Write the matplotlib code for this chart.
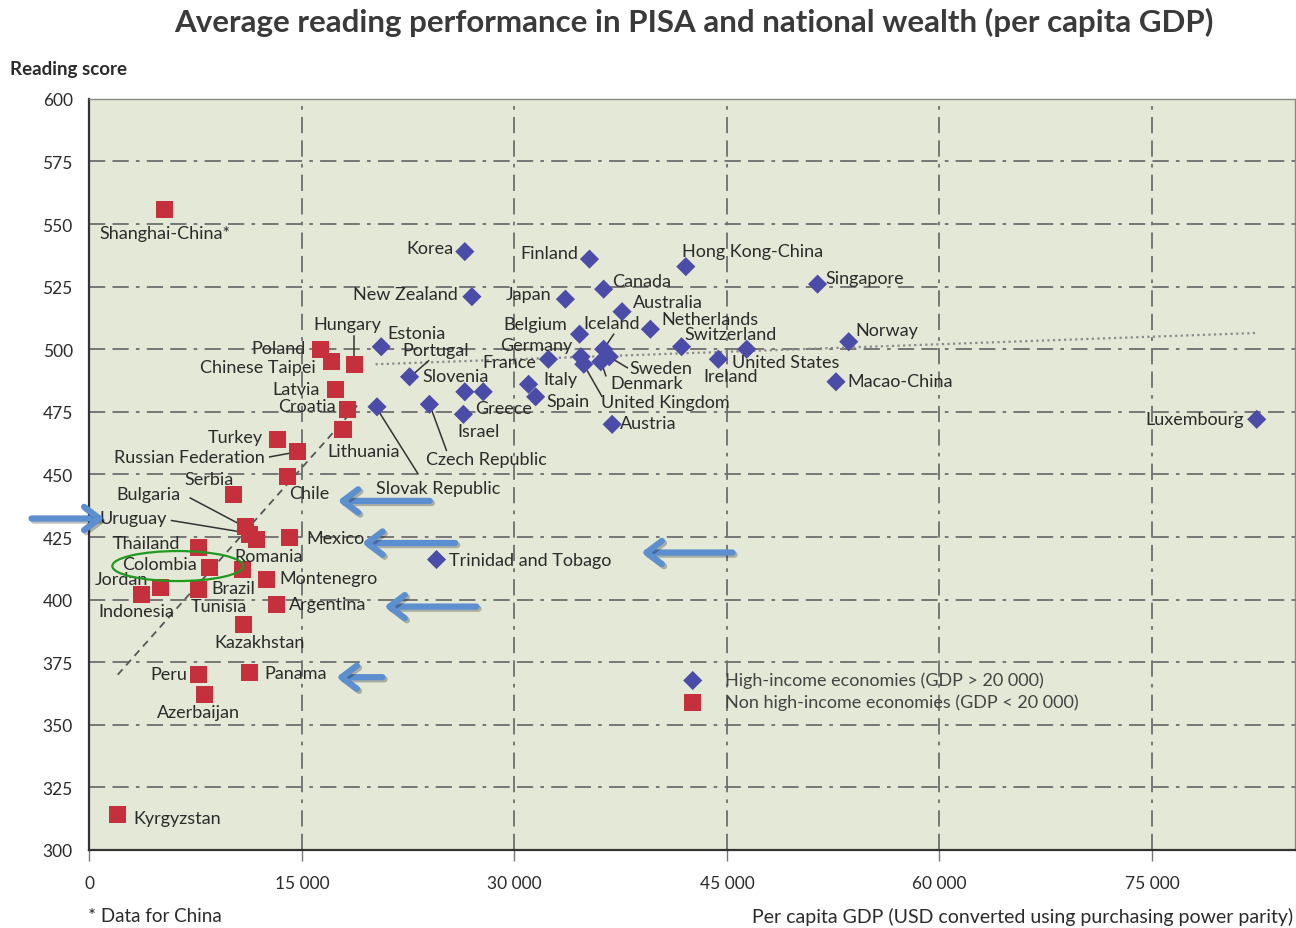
"""
Average reading performance in PISA 2009 and per capita GDP.
Output: out.png
"""

import matplotlib
matplotlib.use("Agg")
import matplotlib.pyplot as plt
import matplotlib.patheffects as pe
from matplotlib.patches import Ellipse
from matplotlib.transforms import ScaledTranslation

plt.rcParams["font.family"] = ["Lato", "DejaVu Sans"]

# ── data (GDP in thousand USD PPP, PISA reading score) ─────────────────────────
high_names = ["Korea", "Finland", "Hong Kong-China", "Singapore", "Canada",
              "New Zealand", "Japan", "Australia", "Netherlands", "Belgium",
              "Norway", "Estonia", "Switzerland", "Iceland", "United States",
              "Germany", "Sweden", "Ireland", "France", "Denmark",
              "United Kingdom", "Portugal", "Italy", "Macao-China", "Slovenia",
              "Greece", "Spain", "Czech Republic", "Slovak Republic", "Israel",
              "Luxembourg", "Austria", "Trinidad and Tobago"]
high_gdp = [26.5, 35.3, 42.1, 51.4, 36.3, 27.0, 33.6, 37.6, 39.6, 34.6,
            53.6, 20.6, 41.8, 36.3, 46.4, 34.7, 36.7, 44.4, 32.4, 36.1,
            34.9, 22.6, 31.0, 52.7, 26.5, 27.8, 31.5, 24.0, 20.3, 26.4,
            82.4, 36.9, 24.5]
high_score = [539, 536, 533, 526, 524, 521, 520, 515, 508, 506,
              503, 501, 501, 500, 500, 497, 497, 496, 496, 495,
              494, 489, 486, 487, 483, 483, 481, 478, 477, 474,
              472, 470, 416]

low_names = ["Shanghai-China*", "Poland", "Chinese Taipei", "Hungary", "Latvia",
             "Croatia", "Lithuania", "Turkey", "Russian Federation", "Chile",
             "Serbia", "Bulgaria", "Uruguay", "Mexico", "Romania", "Thailand",
             "Colombia", "Brazil", "Montenegro", "Jordan", "Tunisia",
             "Indonesia", "Argentina", "Kazakhstan", "Panama", "Peru",
             "Azerbaijan", "Kyrgyzstan"]
low_gdp = [5.3, 16.3, 17.1, 18.7, 17.4, 18.2, 17.9, 13.3, 14.7, 14.0,
           10.2, 11.0, 11.3, 14.1, 11.8, 7.7, 8.5, 10.8, 12.5, 5.0,
           7.7, 3.7, 13.2, 10.9, 11.3, 7.7, 8.1, 2.0]
low_score = [556, 500, 495, 494, 484, 476, 468, 464, 459, 449,
             442, 429, 426, 425, 424, 421, 413, 412, 408, 405,
             404, 402, 398, 390, 371, 370, 362, 314]

# trend lines (GDP range, fitted score at both ends)
high_trend_gdp = [20.2, 82.4]
high_trend_score = [494, 506.5]
low_trend_gdp = [2.0, 18.9]
low_trend_score = [370, 477.5]

x_ticks = [0, 15000, 30000, 45000, 60000, 75000]
x_ticklabels = ["0", "15 000", "30 000", "45 000", "60 000", "75 000"]
y_ticks = [300, 325, 350, 375, 400, 425, 450, 475, 500, 525, 550, 575, 600]

# ── label placement: (dx, dy, ha) in pixels, dy positive = down ───────────────
LABELS = {
    "Korea": (-11, -4, "right"), "Finland": (-11, -6, "right"),
    "Hong Kong-China": (-4, -16, "left"), "Singapore": (8, -6, "left"),
    "Canada": (8, -8, "left"), "New Zealand": (-14, -3, "right"),
    "Japan": (-14, -5, "right"), "Australia": (11, -10, "left"),
    "Netherlands": (11, -10, "left"), "Belgium": (-12, -10, "right"),
    "Norway": (7, -12, "left"), "Estonia": (6, -14, "left"),
    "Switzerland": (3, -13, "left"), "Iceland": (-20, -26, "left"),
    "United States": (-15, 13, "left"), "Germany": (-9, -12, "right"),
    "Sweden": (20, 11, "left"), "Ireland": (-15, 17, "left"),
    "France": (-12, 3, "right"), "Denmark": (10, 21, "left"),
    "United Kingdom": (17, 38, "left"), "Portugal": (-7, -27, "left"),
    "Italy": (15, -5, "left"), "Macao-China": (11, -1, "left"),
    "Slovenia": (-42, -16, "left"), "Greece": (-8, 16, "left"),
    "Spain": (11, 4, "left"), "Czech Republic": (-3, 55, "left"),
    "Slovak Republic": (-1, 81, "left"), "Israel": (-6, 17, "left"),
    "Luxembourg": (-13, 0, "right"), "Austria": (8, -1, "left"),
    "Trinidad and Tobago": (13, 0, "left"),
    "Shanghai-China*": (0, 24, "center"), "Poland": (-15, -1, "right"),
    "Chinese Taipei": (-16, 5, "right"), "Hungary": (-7, -40, "center"),
    "Latvia": (-16, 0, "right"), "Croatia": (-11, -3, "right"),
    "Lithuania": (-16, 22, "left"), "Turkey": (-15, -2, "right"),
    "Russian Federation": (-33, 5, "right"), "Chile": (1, 16, "left"),
    "Serbia": (0, -15, "right"), "Bulgaria": (-65, -33, "right"),
    "Uruguay": (-83, -17, "right"), "Mexico": (17, 1, "left"),
    "Romania": (-22, 16, "left"), "Thailand": (-18, -4, "right"),
    "Colombia": (-13, -3, "right"), "Brazil": (-31, 18, "left"),
    "Montenegro": (13, -2, "left"), "Jordan": (-12, -8, "right"),
    "Tunisia": (-8, 16, "left"), "Indonesia": (-6, 16, "center"),
    "Argentina": (13, -1, "left"), "Kazakhstan": (16, 17, "center"),
    "Panama": (15, 1, "left"), "Peru": (-11, -1, "right"),
    "Azerbaijan": (-6, 17, "center"), "Kyrgyzstan": (16, 3, "left"),
}

# leader lines: start and end offsets from the marker, pixels
LEADERS = {
    "Iceland": ((10, -15), (2, -3)),
    "Portugal": ((19, -16), (3, -2)),
    "Hungary": ((0, -28), (0, -7)),
    "Russian Federation": ((-28, 5), (-6, 1)),
    "Bulgaria": ((-55, -29), (-4, -2)),
    "Uruguay": ((-78, -14), (-5, -2)),
    "Sweden": ((3, 2), (18, 11)),
    "Denmark": ((2, 5), (5, 14)),
    "United Kingdom": ((2, 4), (18, 32)),
    "Czech Republic": ((2, 5), (17, 46)),
    "Slovak Republic": ((2, 5), (41, 67)),
}

# hand-drawn blue arrows: head offset from marker (px), length (px), direction
ARROWS = {
    "Chile": (50, 24, 92, -1),
    "Mexico": (73, 6, 93, -1),
    "Trinidad and Tobago": (205, -7, 91, -1),
    "Argentina": (108, 2, 92, -1),
    "Panama": (87, 5, 46, -1),
    "Uruguay": (-145, -16, 73, 1),
}

RED = "#c5303c"
BLUE = "#4b4ba8"
TXT = "#2b2b2b"
DPI = 100

fig = plt.figure(figsize=(12.96, 9.29), dpi=DPI)
ax = fig.add_axes([0.069, 0.084, 0.9302, 0.8085])
ax.set_facecolor("#e4e8d6")

ax.set_xlim(0, 85100)
ax.set_ylim(300, 600)

# grid
grid_kw = dict(color="#6e6e6e", linewidth=1.3, dashes=(9, 4, 9, 4, 2, 4), zorder=1)
for y in y_ticks[1:-1]:
    ax.axhline(y, **grid_kw)
for x in x_ticks[1:]:
    ax.axvline(x, **grid_kw)

# trend lines
ax.plot([g * 1000 for g in high_trend_gdp], high_trend_score, color="#8a8a8a",
        linestyle=(0, (1, 1.5)), linewidth=1.6, zorder=2)
ax.plot([g * 1000 for g in low_trend_gdp], low_trend_score, color="#555555",
        linestyle=(0, (4, 3)), linewidth=1.3, zorder=2)

# markers
ax.scatter([g * 1000 for g in high_gdp], high_score, marker="D", s=95,
           color=BLUE, edgecolor="none", zorder=4,
           label="High-income economies (GDP > 20 000)")
ax.scatter([g * 1000 for g in low_gdp], low_score, marker="s", s=150,
           color=RED, edgecolor="none", zorder=4,
           label="Non high-income economies (GDP < 20 000)")

# country labels
all_pts = {n: (g * 1000, s) for n, g, s in
           zip(high_names + low_names, high_gdp + low_gdp, high_score + low_score)}
for name, (dx, dy, ha) in LABELS.items():
    ax.annotate(name, xy=all_pts[name], xytext=(dx, -dy),
                textcoords="offset pixels", ha=ha, va="center",
                fontsize=13, color=TXT, zorder=5)

for name, ((x1, y1), (x2, y2)) in LEADERS.items():
    px, py = ax.transData.transform(all_pts[name])
    p1 = ax.transData.inverted().transform((px + x1, py - y1))
    p2 = ax.transData.inverted().transform((px + x2, py - y2))
    ax.plot([p1[0], p2[0]], [p1[1], p2[1]], color="#333333", lw=1.1, zorder=3)

# blue annotation arrows
for name, (hx, hy, length, d) in ARROWS.items():
    px, py = ax.transData.transform(all_pts[name])
    head = ax.transData.inverted().transform((px + hx, py - hy))
    tail = ax.transData.inverted().transform((px + hx - d * length, py - hy))
    ax.annotate("", xy=head, xytext=tail, annotation_clip=False, zorder=6,
                arrowprops=dict(arrowstyle="->,head_length=0.5,head_width=0.38",
                                color="#5b8fcf", lw=4.5, mutation_scale=22,
                                shrinkA=0, shrinkB=0,
                                path_effects=[pe.SimpleLineShadow(offset=(1.5, -1.5), alpha=0.25),
                                              pe.Normal()]))

# green ellipse around Colombia
cx, cy = all_pts["Colombia"]
tr = fig.dpi_scale_trans + ScaledTranslation(cx, cy, ax.transData)
ax.add_patch(Ellipse((-32 / DPI, 1 / DPI), 131 / DPI, 30 / DPI, transform=tr,
                     fill=False, edgecolor="#1f9a1f", lw=1.6, zorder=6))

# axes styling
ax.set_xticks(x_ticks)
ax.set_xticklabels(x_ticklabels)
ax.set_yticks(y_ticks)
ax.tick_params(axis="x", length=8, width=1, color="#777777", pad=10,
               labelsize=12.5, labelcolor=TXT)
ax.tick_params(axis="y", length=0, pad=12, labelsize=12.5, labelcolor=TXT)
for side in ["left", "bottom"]:
    ax.spines[side].set_color("#333333")
    ax.spines[side].set_linewidth(1.6)
for side in ["top", "right"]:
    ax.spines[side].set_color("#888888")
    ax.spines[side].set_linewidth(1.0)

leg = ax.legend(loc="upper left", bbox_to_anchor=(0.472, 0.259), frameon=False,
                fontsize=13, handletextpad=0.8, labelspacing=0.3,
                scatterpoints=1)
for t in leg.get_texts():
    t.set_color("#444444")

fig.text(0.535, 0.976, "Average reading performance in PISA and national wealth (per capita GDP)",
         ha="center", va="center", fontsize=22.5, fontweight="bold", color="#3a3a3a")
fig.text(0.008, 0.925, "Reading score", ha="left", va="center",
         fontsize=13.5, fontweight="bold", color=TXT)
fig.text(0.068, 0.013, "* Data for China", ha="left", va="center",
         fontsize=13.5, color=TXT)
fig.text(0.998, 0.013, "Per capita GDP (USD converted using purchasing power parity)",
         ha="right", va="center", fontsize=14, color=TXT)

fig.savefig("out.png", dpi=DPI)
